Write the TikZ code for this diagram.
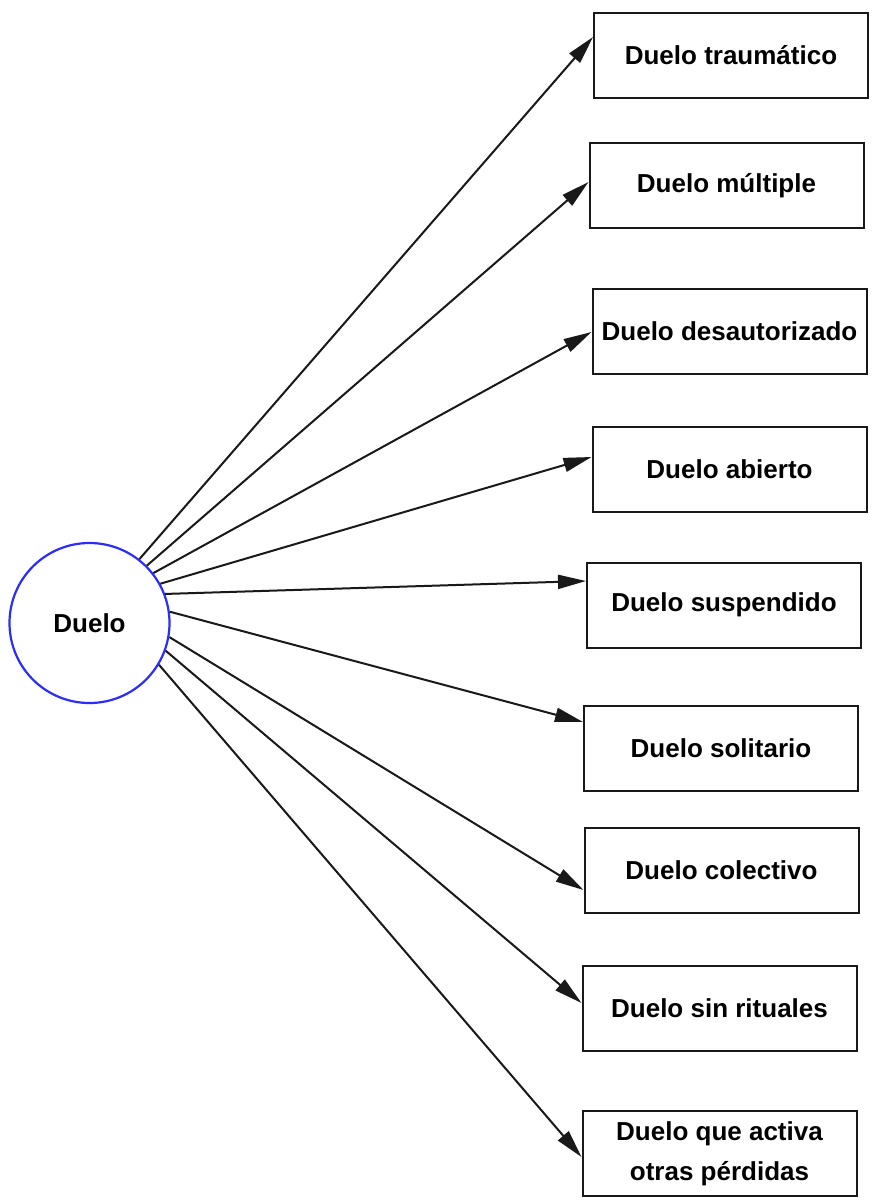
\documentclass[tikz,border=0pt]{standalone}
\usepackage{fontspec}
\setmainfont{Liberation Sans}
\usetikzlibrary{arrows.meta,calc}
\definecolor{circblue}{RGB}{45,45,250}
\definecolor{edgegray}{RGB}{25,25,25}
\tikzset{
  typebox/.style={draw=edgegray, line width=1pt, rectangle, minimum width=137pt, minimum height=42.5pt, inner sep=0pt, align=center, font=\fontsize{13}{20}\selectfont\bfseries},
  rootcirc/.style={draw=circblue, line width=1.1pt, circle, minimum size=80pt, inner sep=0pt, font=\fontsize{13}{16}\selectfont\bfseries},
  link/.style={draw=edgegray, line width=1pt, -{Triangle[length=14pt,width=7pt]}}
}
\begin{document}
\begin{tikzpicture}[x=0.5pt,y=-0.5pt]
\useasboundingbox[fill=white] (0,0) rectangle (875,1201);
\node[rootcirc] (duelo) at (89.5,623) {Duelo};
\node[typebox] (b1) at (731,55) {Duelo traumático};
\node[typebox] (b2) at (726.5,185.5) {Duelo múltiple};
\node[typebox] (b3) at (729.5,331.5) {Duelo desautorizado};
\node[typebox] (b4) at (729.5,469.5) {Duelo abierto};
\node[typebox] (b5) at (724,605) {Duelo suspendido};
\node[typebox] (b6) at (721,748.5) {Duelo solitario};
\node[typebox] (b7) at (721.5,870.5) {Duelo colectivo};
\node[typebox] (b8) at (719.5,1008.5) {Duelo sin rituales};
\node[typebox] (b9) at (719.5,1153.5) {Duelo que activa\\otras pérdidas};
\draw[link] (duelo.52) -- ([yshift=9pt]b1.west);
\draw[link] (duelo.45) -- ([yshift=1.75pt]b2.west);
\draw[link] (duelo.38) -- ([yshift=-0.25pt]b3.west);
\draw[link] (duelo.29.6) -- ([yshift=6.25pt]b4.west);
\draw[link] (duelo.21.7) -- ([yshift=12pt]b5.west);
\draw[link] (duelo.8) -- ([yshift=13.25pt]b6.west);
\draw[link] (duelo.-10.2) -- ([yshift=-9.75pt]b7.west);
\draw[link] (duelo.-20.2) -- ([yshift=2.75pt]b8.west);
\draw[link] (duelo.-31.5) -- ([yshift=-1.75pt]b9.west);
\end{tikzpicture}
\end{document}
